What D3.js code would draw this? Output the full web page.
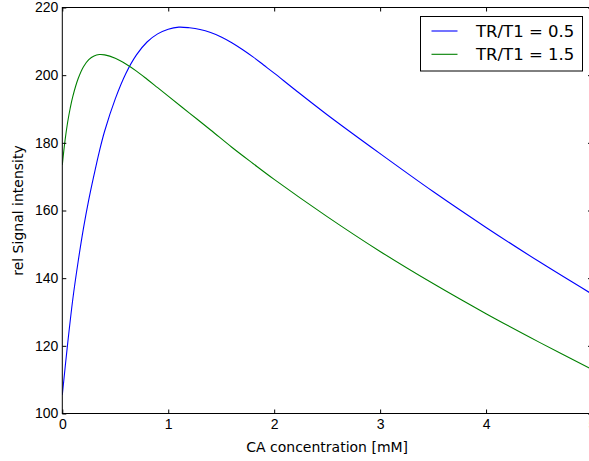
<!DOCTYPE html>
<html>
<head>
<meta charset="utf-8">
<script src="https://cdn.jsdelivr.net/npm/d3@7"></script>
<style>
	body { margin: 0; background: #fff; }
	svg { display: block; font-family: "DejaVu Sans", sans-serif; }
</style>
</head>
<body>
<script>
// values
const seriesNames = ['TR/T1 = 0.5', 'TR/T1 = 1.5'];
const seriesColors = ['#0000ff', '#008000'];

const blueX = [0, 0.05, 0.1, 0.15, 0.2, 0.25, 0.3, 0.35, 0.4, 0.5, 0.6, 0.7, 0.8, 0.9, 1.0, 1.1, 1.2, 1.3, 1.4, 1.5, 1.6, 1.7, 1.8, 1.9, 2.0, 2.2, 2.5, 3.0, 3.5, 4.0, 4.5, 5.0];
const blueY = [105.5, 120.5, 134, 145, 154.8, 163.2, 170.6, 177.5, 183.5, 193, 200.5, 206, 209.8, 212.2, 213.6, 214.2, 214.0, 213.5, 212.6, 211.3, 209.6, 207.6, 205.4, 203.0, 200.6, 195.6, 188.3, 176.8, 165.6, 155.0, 144.9, 135.3];

const greenX = [0, 0.025, 0.05, 0.075, 0.1, 0.15, 0.2, 0.25, 0.3, 0.35, 0.4, 0.5, 0.6, 0.7, 0.8, 0.9, 1.0, 1.2, 1.4, 1.6, 1.8, 2.0, 2.5, 3.0, 3.5, 4.0, 4.5, 5.0];
const greenY = [173.5, 180.5, 186, 190.3, 193.8, 199.0, 202.5, 204.6, 205.7, 206.1, 206.0, 205.0, 203.3, 201.2, 198.8, 196.3, 193.8, 188.8, 183.8, 178.7, 173.9, 169.2, 158.2, 147.9, 138.4, 129.5, 121.1, 113.0];

const xTicks = [0, 1, 2, 3, 4, 5];
const yTicks = [100, 120, 140, 160, 180, 200, 220];

const width = 589, height = 461;
const margin = {left: 62.3, top: 7.5, right: 592, bottom: 413.5};

const svg = d3.select('body')
	.append('svg')
	.attr('width', width)
	.attr('height', height);

const x = d3.scaleLinear().domain([0, 5]).range([margin.left, margin.right]);
const y = d3.scaleLinear().domain([100, 220]).range([margin.bottom, margin.top]);

const series = [
	{xs: blueX, ys: blueY},
	{xs: greenX, ys: greenY}
];

const line = d3.line()
	.x(d => x(d[0]))
	.y(d => y(d[1]))
	.curve(d3.curveCatmullRom.alpha(0.5));

svg.append('defs').append('clipPath').attr('id', 'plot')
	.append('rect')
	.attr('x', margin.left).attr('y', margin.top)
	.attr('width', margin.right - margin.left)
	.attr('height', margin.bottom - margin.top);

// curves
series.forEach((s, i) => {
	svg.append('path')
		.datum(s.xs.map((v, j) => [v, s.ys[j]]))
		.attr('clip-path', 'url(#plot)')
		.attr('fill', 'none')
		.attr('stroke', seriesColors[i])
		.attr('stroke-width', 1.1)
		.attr('d', line);
});

// axes, ticks pointing inward like matplotlib classic
function styleAxis(g) {
	g.select('.domain').remove();
	g.selectAll('.tick line').attr('stroke', '#000');
	g.selectAll('.tick text')
		.attr('fill', '#000')
		.style('font-size', '14px');
}

svg.append('g')
	.attr('transform', `translate(0,${margin.bottom})`)
	.call(d3.axisBottom(x).tickValues(xTicks).tickFormat(d3.format('d')).tickSize(-4).tickPadding(6))
	.call(styleAxis);

svg.append('g')
	.attr('transform', `translate(0,${margin.top})`)
	.call(d3.axisTop(x).tickValues(xTicks).tickFormat('').tickSize(-4))
	.call(styleAxis);

svg.append('g')
	.attr('transform', `translate(${margin.left},0)`)
	.call(d3.axisLeft(y).tickValues(yTicks).tickFormat(d3.format('d')).tickSize(-4).tickPadding(4))
	.call(styleAxis);

svg.append('g')
	.attr('transform', `translate(${margin.right},0)`)
	.call(d3.axisRight(y).tickValues(yTicks).tickFormat('').tickSize(-4))
	.call(styleAxis);

// frame
svg.append('rect')
	.attr('x', margin.left)
	.attr('y', margin.top)
	.attr('width', margin.right - margin.left)
	.attr('height', margin.bottom - margin.top)
	.attr('fill', 'none')
	.attr('stroke', '#000')
	.attr('stroke-width', 1);

// axis labels
svg.append('text')
	.attr('x', (margin.left + margin.right) / 2)
	.attr('y', 452)
	.attr('text-anchor', 'middle')
	.style('font-size', '14px')
	.text('CA concentration [mM]');

svg.append('text')
	.attr('transform', `translate(23,${(margin.top + margin.bottom) / 2}) rotate(-90)`)
	.attr('text-anchor', 'middle')
	.style('font-size', '14px')
	.text('rel Signal intensity');

// legend
const legend = svg.append('g');
legend.append('rect')
	.attr('x', 420.5)
	.attr('y', 16.5)
	.attr('width', 162)
	.attr('height', 54.5)
	.attr('fill', '#fff')
	.attr('stroke', '#000')
	.attr('stroke-width', 1);

seriesNames.forEach((name, i) => {
	const ly = 31 + i * 23.3;
	legend.append('line')
		.attr('x1', 431.5).attr('x2', 457.5)
		.attr('y1', ly).attr('y2', ly)
		.attr('stroke', seriesColors[i])
		.attr('stroke-width', 1.1);
	legend.append('text')
		.attr('x', 476)
		.attr('y', ly + 5.8)
		.style('font-size', '16.5px')
		.text(name);
});
</script>
</body>
</html>
